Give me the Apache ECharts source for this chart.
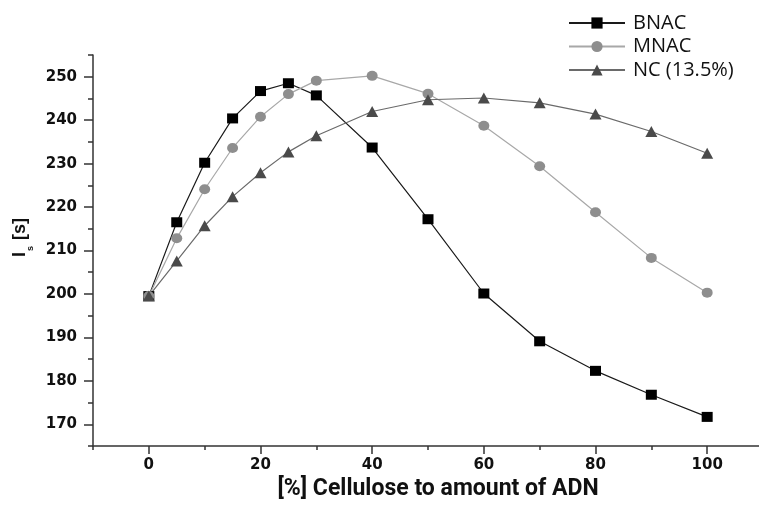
<!DOCTYPE html>
<html>
<head>
<meta charset="utf-8">
<script src="https://cdn.jsdelivr.net/npm/echarts@6/dist/echarts.min.js"></script>
<style>
  html, body { margin: 0; padding: 0; background: #fff; }
  #main { width: 759px; height: 512px; }
</style>
</head>
<body>
<div id="main"></div>
<script>
// cellulose share, %
var cellulose = [0, 5, 10, 15, 20, 25, 30, 40, 50, 60, 70, 80, 90, 100];
// I_s [s] for each sample
var bnac = [199.5, 216.5, 230.2, 240.4, 246.7, 248.5, 245.7, 233.7, 217.2, 200.1, 189.1, 182.3, 176.8, 171.7];
var mnac = [199.5, 212.8, 224.1, 233.6, 240.8, 246.0, 249.1, 250.2, 246.1, 238.7, 229.4, 218.8, 208.3, 200.3];
var nc = [199.5, 207.6, 215.7, 222.4, 227.9, 232.7, 236.4, 242.0, 244.7, 245.1, 244.0, 241.4, 237.4, 232.4];
var seriesNames = ['BNAC', 'MNAC', 'NC (13.5%)'];

// ticks
var xMajorTicks = [0, 20, 40, 60, 80, 100];
var xMinorTicks = [-10, 10, 30, 50, 70, 90, 110];
var yMajorTicks = [170, 180, 190, 200, 210, 220, 230, 240, 250];
var yMinorTicks = [165, 175, 185, 195, 205, 215, 225, 235, 245, 255];

function pairs(xs, ys) {
	var out = [];
	for (var i = 0; i < xs.length; i++) {
		out.push([xs[i], ys[i]]);
	}
	return out;
}

var axisColor = '#333';
var tickFont = {
	fontFamily : 'DejaVu Sans',
	fontWeight : 'bold',
	fontSize : 15,
	color : '#111'
};

var chart = echarts.init(document.getElementById('main'), null, { renderer : 'canvas' });

var option = {
	animation : false,
	backgroundColor : '#fff',
	grid : {
		left : 93,
		top : 55,
		width : 670,
		bottom : 66,
		outerBoundsMode : 'none'
	},
	legend : {
		orient : 'vertical',
		left : 568,
		top : 13,
		padding : 0,
		itemWidth : 56,
		itemHeight : 14,
		itemGap : 3.5,
		data : seriesNames,
		textStyle : {
			fontFamily : 'Open Sans',
			fontSize : 20,
			lineHeight : 20,
			color : '#111',
			padding : [0, 0, 0, 3]
		}
	},
	xAxis : [ {
		type : 'value',
		min : -10,
		max : 110,
		position : 'bottom',
		splitLine : { show : false },
		axisLine : { show : true, onZero : false, lineStyle : { color : axisColor, width : 1.5 } },
		axisTick : { show : true, length : 8, customValues : xMajorTicks, lineStyle : { color : axisColor, width : 1.5 } },
		axisLabel : Object.assign({ margin : 12, customValues : xMajorTicks }, tickFont),
		name : '[%] Cellulose to amount of ADN',
		nameLocation : 'middle',
		nameGap : 30,
		nameTextStyle : {
			fontFamily : 'Roboto',
			fontWeight : 'bold',
			fontSize : 23,
			color : '#111',
			padding : [0, 0, 0, 20]
		}
	}, {
		// minor ticks only
		type : 'value',
		min : -10,
		max : 110,
		position : 'bottom',
		splitLine : { show : false },
		axisLine : { show : false, onZero : false },
		axisTick : { show : true, length : 4, customValues : xMinorTicks, lineStyle : { color : axisColor, width : 1.5 } },
		axisLabel : { show : false }
	} ],
	yAxis : [ {
		type : 'value',
		min : 165,
		max : 255,
		position : 'left',
		splitLine : { show : false },
		axisLine : { show : true, onZero : false, lineStyle : { color : axisColor, width : 1.5 } },
		axisTick : { show : true, length : 9, customValues : yMajorTicks, lineStyle : { color : axisColor, width : 1.5 } },
		axisLabel : Object.assign({ margin : 16, customValues : yMajorTicks }, tickFont),
		name : '{i|I}{s|s}{i| [s]}',
		nameLocation : 'middle',
		nameGap : 62,
		nameTextStyle : {
			padding : [0, 0, 0, 26],
			rich : {
				i : {
					fontFamily : 'Liberation Sans',
					fontWeight : 'bold',
					fontSize : 18,
					lineHeight : 18,
					verticalAlign : 'top',
					color : '#111'
				},
				s : {
					fontFamily : 'Liberation Sans',
					fontWeight : 'bold',
					fontSize : 9,
					lineHeight : 9,
					verticalAlign : 'top',
					padding : [15, 1, 0, 1],
					color : '#111'
				}
			}
		}
	}, {
		// minor ticks only
		type : 'value',
		min : 165,
		max : 255,
		position : 'left',
		splitLine : { show : false },
		axisLine : { show : false, onZero : false },
		axisTick : { show : true, length : 5, customValues : yMinorTicks, lineStyle : { color : axisColor, width : 1.5 } },
		axisLabel : { show : false }
	} ],
	series : [ {
		name : seriesNames[0],
		type : 'line',
		symbol : 'rect',
		symbolSize : [11, 10],
		itemStyle : { color : '#000' },
		lineStyle : { color : '#1a1a1a', width : 1.2 },
		data : pairs(cellulose, bnac)
	}, {
		name : seriesNames[1],
		type : 'line',
		symbol : 'circle',
		symbolSize : [11, 10],
		itemStyle : { color : '#8e8e8e' },
		lineStyle : { color : '#a8a8a8', width : 1.2 },
		data : pairs(cellulose, mnac)
	}, {
		name : seriesNames[2],
		type : 'line',
		symbol : 'triangle',
		symbolSize : [12, 11],
		itemStyle : { color : '#4a4a4a' },
		lineStyle : { color : '#6a6a6a', width : 1.2 },
		data : pairs(cellulose, nc)
	} ]
};

chart.setOption(option);
</script>
</body>
</html>
